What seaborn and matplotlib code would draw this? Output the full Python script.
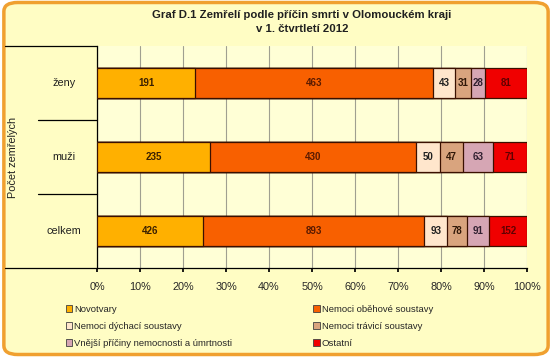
import matplotlib
matplotlib.use("Agg")
import matplotlib.pyplot as plt
import numpy as np
import pandas as pd
import seaborn as sns
from matplotlib.patches import FancyBboxPatch, Patch
from matplotlib.lines import Line2D
from matplotlib.ticker import PercentFormatter

groups = ["ženy", "muži", "celkem"]
causes = ["Novotvary", "Nemoci oběhové soustavy", "Nemoci dýchací soustavy",
          "Nemoci trávicí soustavy", "Vnější příčiny nemocnosti a úmrtnosti", "Ostatní"]
novotvary = [191, 235, 426]
obehove = [463, 430, 893]
dychaci = [43, 50, 93]
travici = [31, 47, 78]
vnejsi = [28, 63, 91]
ostatni = [81, 71, 152]

colors = ["#FFB000", "#F86000", "#FFE6CC", "#D9A47E", "#D6A6B4", "#F00000"]
text_colors = ["#3A2000", "#5A1A00", "#202020", "#301808", "#302030", "#600000"]

sns.set_theme(style="white")
plt.rcParams["font.family"] = ["Liberation Sans", "DejaVu Sans"]

df = pd.DataFrame([novotvary, obehove, dychaci, travici, vnejsi, ostatni],
                  index=causes, columns=groups).T
share = df.div(df.sum(axis=1), axis=0) * 100
cum = share.cumsum(axis=1)

bg = "#FFFDC4"
fig = plt.figure(figsize=(5.52, 3.57), dpi=100, facecolor="white")
fig.patches.append(FancyBboxPatch((0.007, 0.007), 0.986, 0.986, boxstyle="round,pad=0,rounding_size=0.025",
                                  transform=fig.transFigure, facecolor=bg, edgecolor="#F0A030",
                                  linewidth=2.5, zorder=-10))
ax = fig.add_axes([97 / 552, 89 / 357, 430 / 552, 222 / 357])
ax.set_facecolor("#FFFFD6")

# stacked bars: draw cumulative shares from the longest to the shortest
for i in reversed(range(len(causes))):
    plot_df = pd.DataFrame({"group": groups, "value": cum[causes[i]].values})
    sns.barplot(data=plot_df, x="value", y="group", orient="h", color=colors[i],
                saturation=1, width=0.41, edgecolor="#3A1000", linewidth=0.9, ax=ax, zorder=3)

for gi, g in enumerate(groups):
    for ci, c in enumerate(causes):
        mid = cum.loc[g, c] - share.loc[g, c] / 2
        ax.text(mid, gi, str(df.loc[g, c]), ha="center", va="center", fontsize=7,
                fontweight="bold", color=text_colors[ci], zorder=5)

ax.set_xlim(0, 100)
ax.set_ylim(2.5, -0.5)
ax.set_xticks(np.arange(0, 101, 10))
ax.xaxis.set_major_formatter(PercentFormatter(decimals=0))
ax.tick_params(axis="x", labelsize=7.8, length=3, direction="out", color="black", pad=7, bottom=True)
ax.set_yticks([])
ax.set_ylabel("")
ax.set_xlabel("")
ax.grid(axis="x", color="#A0A090", linewidth=0.8, zorder=0)
ax.set_axisbelow(True)
for s in ["top", "right"]:
    ax.spines[s].set_visible(False)
ax.spines["left"].set_color("black")
ax.spines["bottom"].set_color("black")
ax.spines["left"].set_linewidth(0.9)
ax.spines["bottom"].set_linewidth(0.9)

# category box on the left
lw = 0.9
fig.add_artist(Line2D([5 / 552, 97 / 552], [1 - 46 / 357, 1 - 46 / 357], color="black", lw=lw))
fig.add_artist(Line2D([5 / 552, 97 / 552], [1 - 268 / 357, 1 - 268 / 357], color="black", lw=lw))
for yy in [120, 194]:
    fig.add_artist(Line2D([38 / 552, 97 / 552], [1 - yy / 357, 1 - yy / 357], color="black", lw=lw))
for gi, g in enumerate(groups):
    fig.text(64 / 552, 1 - (83 + gi * 74) / 357, g, ha="center", va="center", fontsize=7.8, color="#202020")
fig.text(13 / 552, 1 - 157 / 357, "Počet zemřelých", rotation=90, ha="center", va="center",
         fontsize=7.8, color="#202020")

fig.text(302 / 552, 1 - 15 / 357, "Graf D.1 Zemřelí podle příčin smrti v Olomouckém kraji",
         ha="center", va="center", fontsize=8.2, fontweight="bold", color="#202020")
fig.text(302 / 552, 1 - 29 / 357, "v 1. čtvrtletí 2012",
         ha="center", va="center", fontsize=8.2, fontweight="bold", color="#202020")

handles = [Patch(facecolor=colors[i], edgecolor="#404040", linewidth=0.6, label=causes[i]) for i in range(6)]
order = [0, 2, 4, 1, 3, 5]
fig.legend([handles[i] for i in order], [causes[i] for i in order], ncol=2, frameon=False,
           fontsize=6.8, handlelength=0.7, handleheight=0.7, handletextpad=0.2, columnspacing=8.6,
           labelspacing=0.85, loc="upper left", bbox_to_anchor=(57 / 552, 1 - 296 / 357))

fig.savefig("out.png", dpi=100, facecolor="white")
